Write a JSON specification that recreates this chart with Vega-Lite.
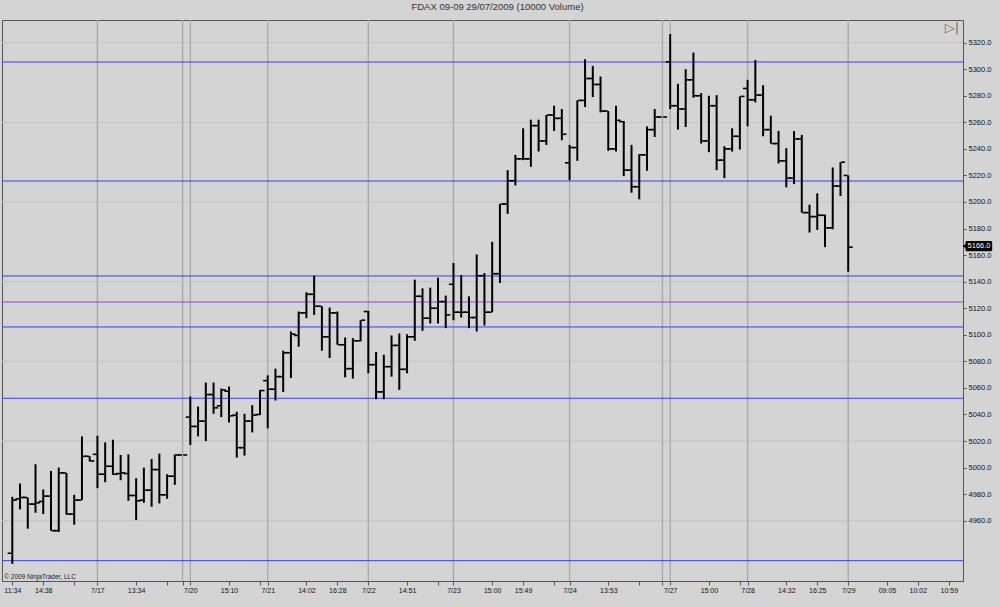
{
  "$schema": "https://vega.github.io/schema/vega-lite/v6.json",
  "autosize": {"type": "none"},
  "width": 961,
  "height": 561,
  "padding": {"left": 2, "top": 20, "right": 37, "bottom": 26},
  "background": "#d4d4d4",
  "title": {"text": "FDAX 09-09  29/07/2009 (10000 Volume)", "fontSize": 9.5, "fontWeight": "normal", "font": "Liberation Sans", "color": "#333333", "anchor": "middle", "offset": 8, "dx": 15},
  "config": {
    "view": {"stroke": "#555555", "strokeWidth": 1},
    "font": "Liberation Sans",
    "axis": {"labelOverlap": false, "labelFont": "Liberation Sans", "labelColor": "#111111", "grid": false, "title": null, "domainColor": "#555555", "tickColor": "#555555", "labelFlush": false, "labelBound": false}
  },
  "datasets": {
    "bars": [
      {"i":0,"o":4935.5,"h":4978,"l":4927.5,"c":4975.5},
      {"i":1,"o":4976.5,"h":4988,"l":4968.5,"c":4977.5},
      {"i":2,"o":4977.5,"h":4977.5,"l":4954,"c":4972.5},
      {"i":3,"o":4972.5,"h":5002.5,"l":4966,"c":4973.5},
      {"i":4,"o":4974.5,"h":4983.5,"l":4965,"c":4978.5},
      {"i":5,"o":4978.5,"h":4997.5,"l":4952.5,"c":4952.5},
      {"i":6,"o":4952.5,"h":5000,"l":4951.5,"c":4996},
      {"i":7,"o":4996,"h":4996,"l":4964.5,"c":4965},
      {"i":8,"o":4965,"h":4979.5,"l":4957,"c":4975.5},
      {"i":9,"o":4975.5,"h":5023.5,"l":4975.5,"c":5008.5},
      {"i":10,"o":5008.5,"h":5008.5,"l":5004.5,"c":5005},
      {"i":11,"o":5010,"h":5024,"l":4984.5,"c":4995},
      {"i":12,"o":4995,"h":5019,"l":4989,"c":5001},
      {"i":13,"o":5001,"h":5021,"l":4994.5,"c":4995},
      {"i":14,"o":4995.5,"h":5009.5,"l":4990.5,"c":4996},
      {"i":15,"o":4995.5,"h":5010,"l":4975,"c":4979},
      {"i":16,"o":4979,"h":4992,"l":4960.5,"c":4975},
      {"i":17,"o":4975.5,"h":5000,"l":4973.5,"c":4983},
      {"i":18,"o":4983,"h":5006.5,"l":4970.5,"c":4998.5},
      {"i":19,"o":4998.5,"h":5010.5,"l":4973,"c":4979.5},
      {"i":20,"o":4979.5,"h":4995,"l":4976.5,"c":4993.5},
      {"i":21,"o":4993.5,"h":5010,"l":4987,"c":5009.5},
      {"i":22,"o":5009.5,"h":5009.5,"l":5009.5,"c":5009.5},
      {"i":23,"o":5038,"h":5053.5,"l":5017,"c":5031},
      {"i":24,"o":5031,"h":5046,"l":5023.5,"c":5035},
      {"i":25,"o":5035,"h":5064,"l":5020,"c":5055},
      {"i":26,"o":5055,"h":5064,"l":5040.5,"c":5045},
      {"i":27,"o":5046.5,"h":5059.5,"l":5038,"c":5058.5},
      {"i":28,"o":5057.5,"h":5061,"l":5034,"c":5039},
      {"i":29,"o":5039.5,"h":5042,"l":5007.5,"c":5015},
      {"i":30,"o":5015,"h":5040.5,"l":5009,"c":5035},
      {"i":31,"o":5035,"h":5047,"l":5026.5,"c":5039.5},
      {"i":32,"o":5040,"h":5058.5,"l":5039.5,"c":5058},
      {"i":33,"o":5065.5,"h":5069.5,"l":5029.5,"c":5059},
      {"i":34,"o":5059,"h":5074.5,"l":5050.5,"c":5068.5},
      {"i":35,"o":5068.5,"h":5088,"l":5057,"c":5086.5},
      {"i":36,"o":5086.5,"h":5102.5,"l":5067.5,"c":5100.5},
      {"i":37,"o":5099.5,"h":5117.5,"l":5091,"c":5116.5},
      {"i":38,"o":5116.5,"h":5132,"l":5112.5,"c":5130.5},
      {"i":39,"o":5130.5,"h":5144.5,"l":5115,"c":5121.5},
      {"i":40,"o":5121.5,"h":5121.5,"l":5088,"c":5098.5},
      {"i":41,"o":5098.5,"h":5120.5,"l":5082.5,"c":5116.5},
      {"i":42,"o":5116.5,"h":5117.5,"l":5092.5,"c":5092.5},
      {"i":43,"o":5092.5,"h":5098,"l":5068,"c":5074.5},
      {"i":44,"o":5074.5,"h":5097.5,"l":5067,"c":5095.5},
      {"i":45,"o":5095.5,"h":5111,"l":5095,"c":5111},
      {"i":46,"o":5117.5,"h":5118,"l":5071,"c":5077.5},
      {"i":47,"o":5077.5,"h":5087,"l":5051.5,"c":5057},
      {"i":48,"o":5057,"h":5085,"l":5051.5,"c":5076},
      {"i":49,"o":5076,"h":5099.5,"l":5068.5,"c":5092},
      {"i":50,"o":5092,"h":5101,"l":5058.5,"c":5074},
      {"i":51,"o":5074,"h":5100.5,"l":5071,"c":5098.5},
      {"i":52,"o":5098.5,"h":5141.5,"l":5095.5,"c":5129},
      {"i":53,"o":5129,"h":5135,"l":5103,"c":5112.5},
      {"i":54,"o":5112.5,"h":5135.5,"l":5108.5,"c":5120},
      {"i":55,"o":5120,"h":5143,"l":5108.5,"c":5125},
      {"i":56,"o":5125,"h":5129.5,"l":5105,"c":5115},
      {"i":57,"o":5138,"h":5154,"l":5111,"c":5117},
      {"i":58,"o":5117,"h":5145,"l":5113,"c":5117},
      {"i":59,"o":5117,"h":5129,"l":5105,"c":5113},
      {"i":60,"o":5113,"h":5160.5,"l":5102.5,"c":5144.5},
      {"i":61,"o":5144.5,"h":5146.5,"l":5107,"c":5117},
      {"i":62,"o":5117,"h":5170,"l":5117,"c":5146},
      {"i":63,"o":5146,"h":5198.5,"l":5139,"c":5198.5},
      {"i":64,"o":5198.5,"h":5224,"l":5191,"c":5216},
      {"i":65,"o":5216,"h":5235.5,"l":5212.5,"c":5232.5},
      {"i":66,"o":5232.5,"h":5255.5,"l":5231.5,"c":5232.5},
      {"i":67,"o":5232.5,"h":5262,"l":5226.5,"c":5257.5},
      {"i":68,"o":5257.5,"h":5262,"l":5238,"c":5246},
      {"i":69,"o":5246,"h":5265.5,"l":5243,"c":5265.5},
      {"i":70,"o":5265.5,"h":5272.5,"l":5253.5,"c":5263},
      {"i":71,"o":5263,"h":5270,"l":5246.5,"c":5251},
      {"i":72,"o":5229.5,"h":5243,"l":5216.5,"c":5241},
      {"i":73,"o":5241,"h":5276.5,"l":5231,"c":5276.5},
      {"i":74,"o":5276.5,"h":5307.5,"l":5271.5,"c":5293},
      {"i":75,"o":5293,"h":5302.5,"l":5279,"c":5288.5},
      {"i":76,"o":5288.5,"h":5294.5,"l":5267.5,"c":5268.5},
      {"i":77,"o":5268.5,"h":5268.5,"l":5238.5,"c":5240},
      {"i":78,"o":5240,"h":5272.5,"l":5238,"c":5261.5},
      {"i":79,"o":5260.5,"h":5261,"l":5219.5,"c":5224},
      {"i":80,"o":5224,"h":5243,"l":5207,"c":5211.5},
      {"i":81,"o":5211.5,"h":5236,"l":5202,"c":5235.5},
      {"i":82,"o":5235.5,"h":5257,"l":5223.5,"c":5254.5},
      {"i":83,"o":5254.5,"h":5270,"l":5249,"c":5264},
      {"i":84,"o":5264,"h":5264,"l":5264,"c":5264},
      {"i":85,"o":5305.5,"h":5326.5,"l":5270,"c":5272.5},
      {"i":86,"o":5272.5,"h":5289,"l":5254.5,"c":5270},
      {"i":87,"o":5270,"h":5300,"l":5256.5,"c":5292},
      {"i":88,"o":5292,"h":5312.5,"l":5278.5,"c":5280},
      {"i":89,"o":5280,"h":5282,"l":5244,"c":5246},
      {"i":90,"o":5246,"h":5280,"l":5237.5,"c":5272.5},
      {"i":91,"o":5272.5,"h":5280.5,"l":5224,"c":5231.5},
      {"i":92,"o":5231.5,"h":5242,"l":5218,"c":5240},
      {"i":93,"o":5240,"h":5255.5,"l":5238,"c":5249.5},
      {"i":94,"o":5249.5,"h":5279.5,"l":5239.5,"c":5279.5},
      {"i":95,"o":5285.5,"h":5292,"l":5257,"c":5277},
      {"i":96,"o":5277,"h":5307,"l":5275,"c":5280.5},
      {"i":97,"o":5280.5,"h":5288,"l":5249.5,"c":5254.5},
      {"i":98,"o":5254.5,"h":5265,"l":5244,"c":5244},
      {"i":99,"o":5244,"h":5253.5,"l":5229,"c":5231},
      {"i":100,"o":5231,"h":5240.5,"l":5211,"c":5218},
      {"i":101,"o":5218,"h":5253.5,"l":5213.5,"c":5247.5},
      {"i":102,"o":5247.5,"h":5250.5,"l":5192,"c":5192},
      {"i":103,"o":5192,"h":5198,"l":5177,"c":5189},
      {"i":104,"o":5189,"h":5206.5,"l":5179,"c":5190},
      {"i":105,"o":5190,"h":5190.5,"l":5166,"c":5180.5},
      {"i":106,"o":5180.5,"h":5226,"l":5179.5,"c":5212},
      {"i":107,"o":5212,"h":5230,"l":5204.5,"c":5230},
      {"i":108,"o":5220,"h":5220,"l":5147.5,"c":5166}
    ],
    "levels": [
      {"v": 5305.4, "kind": "line"},
      {"v": 5215.8, "kind": "line"},
      {"v": 5144.3, "kind": "line"},
      {"v": 5124.7, "kind": "pivot"},
      {"v": 5105.9, "kind": "line"},
      {"v": 5052.2, "kind": "line"},
      {"v": 4929.9, "kind": "line"}
    ],
    "sessions": [{"i": 11}, {"i": 22}, {"i": 23}, {"i": 33}, {"i": 46}, {"i": 57}, {"i": 72}, {"i": 84}, {"i": 85}, {"i": 95}, {"i": 108}],
    "grid": [{"v": 4960}, {"v": 5020}, {"v": 5080}, {"v": 5140}, {"v": 5200}, {"v": 5260}, {"v": 5320}]
  },
  "layer": [
    {
      "data": {"name": "bars"},
      "mark": {"type": "rule", "color": "#000000", "strokeWidth": 2, "strokeCap": "butt", "opacity": 0},
      "encoding": {
        "x": {"field": "i", "type": "quantitative", "scale": {"domain": [-1.33, 122.83], "nice": false, "zero": false},
          "axis": {"orient": "bottom", "title": null, "grid": false, "tickCount": 200, "values": [0,4,8,11,16,20,22,23,28,32,33,38,42,46,51,55,57,62,66,70,72,77,81,84,85,90,94,95,100,104,108,113,117,121],
            "labelExpr": "{'0':'11:34','4':'14:38','11':'7/17','16':'13:34','23':'7/20','28':'15:10','33':'7/21','38':'14:02','42':'16:28','46':'7/22','51':'14:51','57':'7/23','62':'15:00','66':'15:49','72':'7/24','77':'13:53','85':'7/27','90':'15:00','95':'7/28','100':'14:32','104':'16:25','108':'7/29','113':'09:05','117':'10:02','121':'10:59'}['' + datum.value] || ''",
            "labelFontSize": 7, "tickSize": 4, "labelPadding": 1, "labelOverlap": false}},
        "y": {"field": "l", "type": "quantitative", "scale": {"domain": [4914.6, 5337.05], "nice": false, "zero": false},
          "axis": {"orient": "right", "title": null, "tickCount": 200, "values": [4960,4980,5000,5020,5040,5060,5080,5100,5120,5140,5160,5180,5200,5220,5240,5260,5280,5300,5320], "format": ".1f", "labelFontSize": 7.5, "tickSize": 3, "labelPadding": 2, "grid": false, "labelOverlap": false}},
        "y2": {"field": "h"}
      }
    },
    {
      "data": {"name": "grid"},
      "mark": {"type": "rule", "color": "#c4c4c4", "strokeWidth": 1},
      "encoding": {
        "y": {"field": "v", "type": "quantitative"}
      }
    },
    {
      "data": {"name": "sessions"},
      "mark": {"type": "rule", "color": "#ababab", "strokeWidth": 1.4},
      "encoding": {
        "x": {"field": "i", "type": "quantitative"}
      }
    },
    {
      "data": {"name": "levels"},
      "mark": {"type": "rule", "strokeWidth": 1},
      "encoding": {
        "y": {"field": "v", "type": "quantitative"},
        "color": {"field": "kind", "type": "nominal", "scale": {"domain": ["line", "pivot"], "range": ["#3c3cf8", "#a040e8"]}, "legend": null}
      }
    },
    {
      "data": {"name": "bars"},
      "mark": {"type": "rule", "color": "#000000", "strokeWidth": 2, "strokeCap": "butt"},
      "encoding": {
        "x": {"field": "i", "type": "quantitative"},
        "y": {"field": "l", "type": "quantitative"},
        "y2": {"field": "h"}
      }
    },
    {
      "data": {"name": "bars"},
      "mark": {"type": "tick", "orient": "horizontal", "color": "#000000", "size": 4, "thickness": 1.6, "xOffset": -2.6, "opacity": 1},
      "encoding": {
        "x": {"field": "i", "type": "quantitative"},
        "y": {"field": "o", "type": "quantitative"}
      }
    },
    {
      "data": {"name": "bars"},
      "mark": {"type": "tick", "orient": "horizontal", "color": "#000000", "size": 4, "thickness": 1.6, "xOffset": 2.6, "opacity": 1},
      "encoding": {
        "x": {"field": "i", "type": "quantitative"},
        "y": {"field": "c", "type": "quantitative"}
      }
    },
    {
      "data": {"values": [{"t": "© 2009 NinjaTrader, LLC"}]},
      "mark": {"type": "text", "align": "left", "baseline": "middle", "fontSize": 6.5, "color": "#222222", "font": "Liberation Sans"},
      "encoding": {
        "x": {"datum": -1.05, "type": "quantitative"},
        "y": {"datum": 4917.8, "type": "quantitative"},
        "text": {"field": "t"}
      }
    },
    {
      "data": {"values": [{"p": 5166.0}]},
      "mark": {"type": "rect", "color": "#000000", "cornerRadius": 1.5, "clip": false},
      "encoding": {
        "x": {"datum": 123.15, "type": "quantitative"},
        "x2": {"datum": 126.6},
        "y": {"datum": 5163.0, "type": "quantitative"},
        "y2": {"datum": 5170.6}
      }
    },
    {
      "data": {"values": [{"p": 5166.0}]},
      "mark": {"type": "point", "shape": "triangle-left", "filled": true, "color": "#000000", "size": 22, "opacity": 1, "clip": false},
      "encoding": {
        "x": {"datum": 123.0, "type": "quantitative"},
        "y": {"datum": 5166.8, "type": "quantitative"}
      }
    },
    {
      "data": {"values": [{"t": "5166.0"}]},
      "mark": {"type": "text", "align": "center", "baseline": "middle", "fontSize": 7.5, "color": "#ffffff", "font": "Liberation Sans", "clip": false},
      "encoding": {
        "x": {"datum": 124.9, "type": "quantitative"},
        "y": {"datum": 5166.8, "type": "quantitative"},
        "text": {"field": "t"}
      }
    },
    {
      "data": {"values": [{"t": "▷|"}]},
      "mark": {"type": "text", "align": "center", "baseline": "middle", "fontSize": 13, "color": "#707070", "font": "DejaVu Sans"},
      "encoding": {
        "x": {"datum": 121.4, "type": "quantitative"},
        "y": {"datum": 5331, "type": "quantitative"},
        "text": {"field": "t"}
      }
    }
  ]
}
